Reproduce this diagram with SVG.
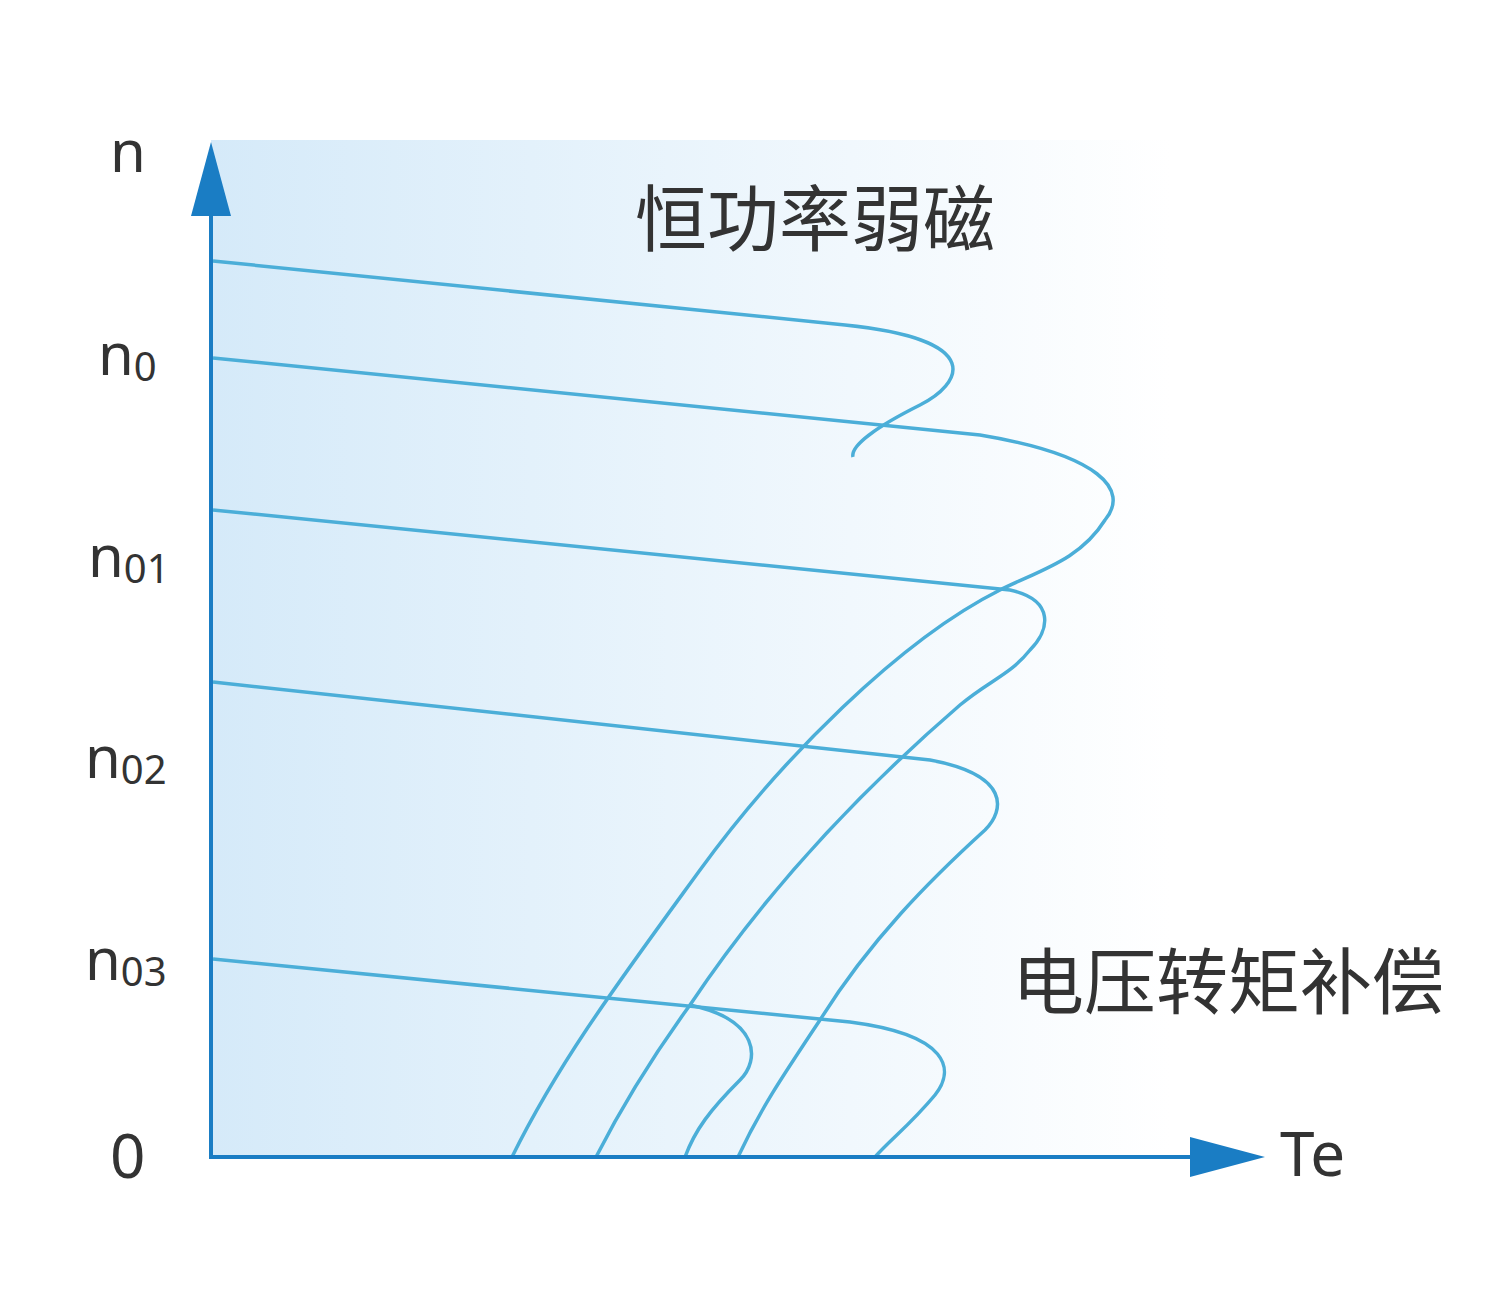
<svg xmlns="http://www.w3.org/2000/svg" width="1501" height="1293" viewBox="0 0 1501 1293">
<defs>
<linearGradient id="bg" x1="0" y1="0" x2="1" y2="0">
<stop offset="0" stop-color="#d5eaf9"/><stop offset="1" stop-color="#ffffff"/>
</linearGradient>
<style>
.c{fill:none;stroke:#4baed8;stroke-width:3.5}
.ax{stroke:#1a7dc4;stroke-width:4;fill:none}
.t{font-family:"Noto Sans","Noto Sans CJK SC",sans-serif;fill:#333}
</style>
</defs>
<rect x="211" y="140" width="960" height="1017" fill="url(#bg)"/>
<g id="connectors">
<path class="c" d="M213,261 L845,325 C990,340 960,385 920,405 C880,425 850,445 853,457"/>
<path class="c" d="M213,358 L980,435 C1100,455 1130,490 1105,520 C1080,560 1040,570 1000,590 C900,640 780,760 700,870 C620,980 560,1060 512,1157"/>
<path class="c" d="M213,510 L1010,590 C1055,600 1050,630 1030,650 C1010,675 990,680 960,705 C850,800 760,900 690,1005 C650,1060 620,1110 596,1157"/>
<path class="c" d="M213,682 L930,760 C1010,775 1005,810 985,830 C930,880 870,940 820,1020 C780,1080 760,1110 738,1157"/>
<path class="c" d="M213,959 L850,1022 C950,1035 955,1070 935,1095 C910,1125 890,1140 875,1157"/>
<path class="c" d="M690,1005 C760,1020 760,1060 740,1080 C710,1110 695,1130 685,1157"/>
</g>
<g id="axes">
<path class="ax" d="M211,200 L211,1157 L1200,1157"/>
<polygon points="211,142 191,216 231,216" fill="#1a7dc4"/>
<polygon points="1265,1157 1190,1137 1190,1177" fill="#1a7dc4"/>
</g>
<g id="labels" class="t">
<text class="t" x="110" y="172" font-size="58">n</text>
<text class="t" x="98" y="375" font-size="58">n<tspan font-size="40" dy="6">0</tspan></text>
<text class="t" x="88" y="577" font-size="58">n<tspan font-size="40" dy="6">01</tspan></text>
<text class="t" x="85" y="778" font-size="58">n<tspan font-size="40" dy="6">02</tspan></text>
<text class="t" x="85" y="980" font-size="58">n<tspan font-size="40" dy="6">03</tspan></text>
<text class="t" x="110" y="1178" font-size="62">0</text>
<text class="t" x="1280" y="1176" font-size="62">Te</text>
<text class="t" x="635" y="245" font-size="72">恒功率弱磁</text>
<text class="t" x="1012" y="1008" font-size="72">电压转矩补偿</text>
</g>
</svg>
